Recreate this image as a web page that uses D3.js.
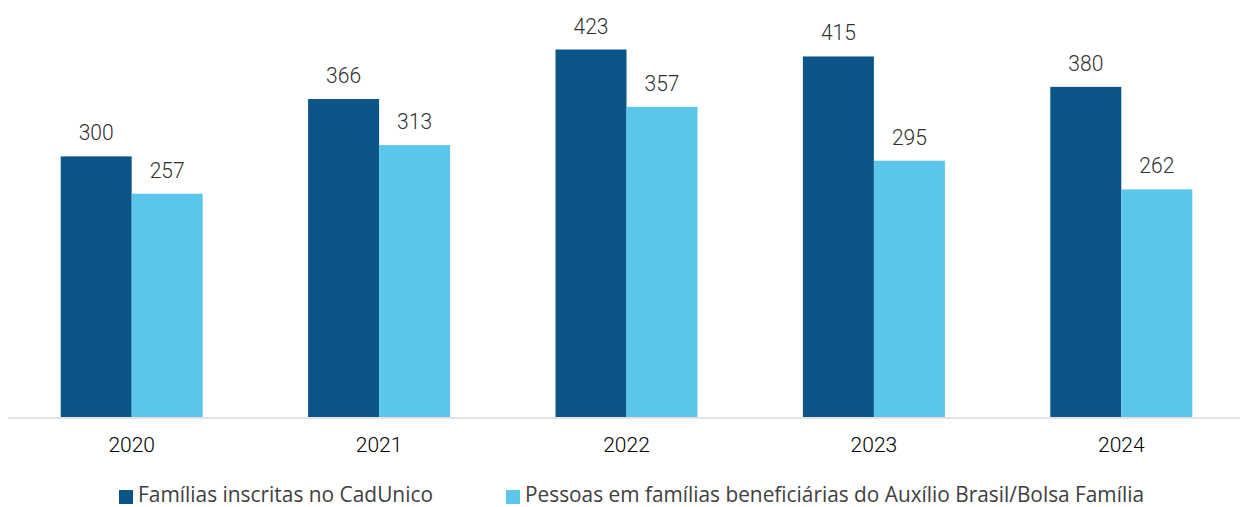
<!DOCTYPE html>
<html><head><meta charset="utf-8">
<script src="https://cdn.jsdelivr.net/npm/d3@7"></script>
<style>body{margin:0;background:#fff}svg{display:block}</style>
</head><body>
<svg id="c" width="1242" height="507"></svg>
<script>
const years = ["2020","2021","2022","2023","2024"];
const seriesNames = ["Famílias inscritas no CadUnico","Pessoas em famílias beneficiárias do Auxílio Brasil/Bolsa Família"];
const familias = [300,366,423,415,380];
const pessoas = [257,313,357,295,262];
const colors = ["#0b5589","#5bc6eb"];

const svg = d3.select("#c");
const baseY = 417;
const x = d3.scaleBand().domain(years).range([8,1245]).paddingInner(0.426).paddingOuter(0.213);
const xs = d3.scaleBand().domain([0,1]).range([0,x.bandwidth()]);
const y = d3.scaleLinear().domain([0,480]).range([baseY,0]);
const data = [familias,pessoas];

svg.append("line").attr("x1",8).attr("x2",1240).attr("y1",baseY+1).attr("y2",baseY+1)
  .attr("stroke","#d9d9d9").attr("stroke-width",1.5);

data.forEach((vals,si)=>{
  svg.selectAll(".b"+si).data(vals).enter().append("rect")
    .attr("x",(d,i)=>x(years[i])+xs(si))
    .attr("y",d=>y(d))
    .attr("width",xs.bandwidth())
    .attr("height",d=>baseY-y(d))
    .attr("fill",colors[si]);
  svg.selectAll(".l"+si).data(vals).enter().append("text")
    .attr("x",(d,i)=>x(years[i])+xs(si)+xs.bandwidth()/2)
    .attr("y",d=>y(d)-16)
    .attr("text-anchor","middle")
    .attr("font-family","Roboto")
    .attr("font-size",22)
    .attr("font-weight",300)
    .attr("fill","#303030")
    .attr("textLength",35).attr("lengthAdjust","spacingAndGlyphs")
    .text(d=>d);
});

const ax = svg.append("g").attr("transform",`translate(0,${baseY+1})`)
  .call(d3.axisBottom(x).tickSize(0).tickPadding(0));
ax.select(".domain").remove();
ax.selectAll("text").attr("font-family","Roboto").attr("font-size",21).attr("fill","#000")
  .attr("font-weight",300)
  .attr("dy",null).attr("y",34);

const legX = [119,506];
const legW = [295,619];
seriesNames.forEach((n,i)=>{
  svg.append("rect").attr("x",legX[i]).attr("y",490).attr("width",14).attr("height",14).attr("fill",colors[i]);
  svg.append("text").attr("x",legX[i]+19).attr("y",502)
    .attr("font-family","Open Sans").attr("font-size",22).attr("fill","#404040")
    .attr("textLength",legW[i]).attr("lengthAdjust","spacingAndGlyphs")
    .text(n);
});
</script>
</body></html>
